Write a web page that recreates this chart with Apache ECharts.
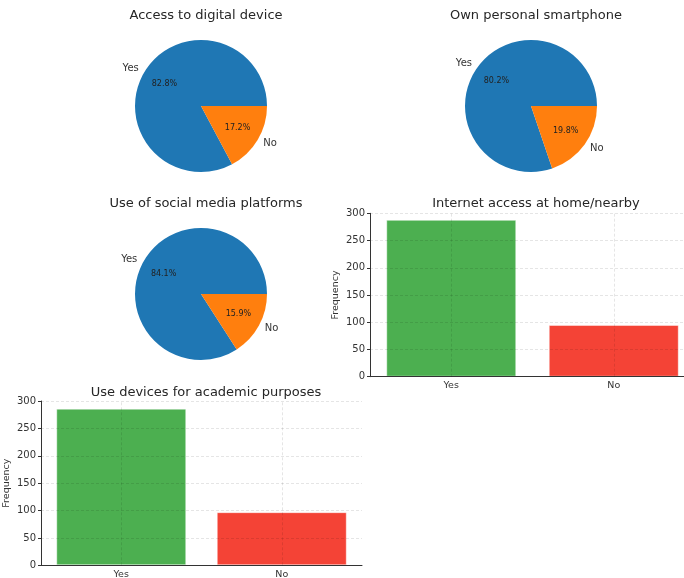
<!DOCTYPE html>
<html>
<head>
<meta charset="utf-8">
<script src="https://cdn.jsdelivr.net/npm/echarts@6/dist/echarts.min.js"></script>
<style>
	html, body { margin: 0; padding: 0; background: #fff; }
	#main { width: 684px; height: 578px; }
</style>
</head>
<body>
<div id="main"></div>
<script>
// 数据
var answers = ['Yes', 'No'];
var accessDevice = [82.8, 17.2];
var ownSmartphone = [80.2, 19.8];
var socialMedia = [84.1, 15.9];
var internetAccess = [288, 95];
var academicUse = [286, 97];
var freqTicks = [0, 50, 100, 150, 200, 250, 300];

var FONT = 'DejaVu Sans';
var pieColors = ['#1f77b4', '#ff7f0e'];
var barColors = ['#4caf50', '#f44336'];
var gridLine = 'rgba(0,0,0,0.13)';

// 饼图 - 名称 + 百分比两层
function pieSeries(center, r, values){
	return [{
		type: 'pie',
		center: center,
		radius: r,
		startAngle: 0,
		clockwise: false,
		avoidLabelOverlap: false,
		silent: true,
		label: {
			position: 'outside', formatter: '{b}',
			fontFamily: FONT, fontSize: 10, color: '#333',
			distanceToLabelLine: 0
		},
		labelLine: { show: false, length: r * 0.1, length2: 0 },
		data: answers.map(function(n, i){
			return { name: n, value: values[i], itemStyle: { color: pieColors[i] } };
		})
	}, {
		type: 'pie',
		center: center,
		radius: [r * 0.2, r],
		startAngle: 0,
		clockwise: false,
		silent: true,
		itemStyle: { color: 'transparent' },
		label: {
			position: 'inside',
			formatter: function(p){ return p.value.toFixed(1) + '%'; },
			fontFamily: FONT, fontSize: 8, color: '#222'
		},
		labelLine: { show: false },
		data: answers.map(function(n, i){ return { name: n, value: values[i] }; })
	}];
}

function barSeries(idx, values){
	return {
		type: 'bar',
		xAxisIndex: idx, yAxisIndex: idx,
		barWidth: 130,
		silent: true,
		data: values.map(function(v, i){
			return { value: v, itemStyle: { color: barColors[i], borderColor: 'rgba(255,255,255,0.45)', borderWidth: 1 } };
		}),
		markLine: {
			silent: true, symbol: ['none', 'none'], label: { show: false },
			lineStyle: { color: gridLine, type: [3, 2], width: 0.8 },
			data: answers.map(function(a){ return { xAxis: a }; })
		}
	};
}

function xAxisOf(idx){
	return {
		type: 'category', gridIndex: idx, data: answers, z: 3,
		axisLine: { lineStyle: { color: '#333', width: 1 } },
		axisTick: { alignWithLabel: true, length: 3, lineStyle: { color: '#333' } },
		axisLabel: { fontFamily: FONT, fontSize: 9.5, color: '#333', margin: 4 },
		splitLine: { show: false }
	};
}

function yAxisOf(idx){
	return {
		type: 'value', gridIndex: idx, z: 3,
		min: freqTicks[0], max: freqTicks[freqTicks.length - 1], interval: freqTicks[1] - freqTicks[0],
		name: 'Frequency', nameLocation: 'middle', nameGap: 29,
		nameTextStyle: { fontFamily: FONT, fontSize: 9.5, color: '#333' },
		axisLine: { show: true, lineStyle: { color: '#333', width: 1 } },
		axisTick: { show: true, length: 3, lineStyle: { color: '#333' } },
		axisLabel: { fontFamily: FONT, fontSize: 10, color: '#333', margin: 5 },
		splitLine: { show: true, lineStyle: { color: gridLine, type: [3, 2], width: 0.8 } }
	};
}

function titleOf(text, x, y){
	return {
		text: text, left: x, top: y, textAlign: 'center',
		textStyle: { fontFamily: FONT, fontSize: 13, fontWeight: 'normal', color: '#262626' }
	};
}

var chart = echarts.init(document.getElementById('main'));
chart.setOption({
	animation: false,
	backgroundColor: '#fff',
	title: [
		titleOf('Access to digital device', 201, 4),
		titleOf('Own personal smartphone', 531, 4),
		titleOf('Use of social media platforms', 201, 192),
		titleOf('Internet access at home/nearby', 531, 192),
		titleOf('Use devices for academic purposes', 201, 381)
	],
	grid: [
		{ left: 370, top: 213.3, width: 325, height: 163.4, outerBoundsMode: 'none', containLabel: false },
		{ left: 41, top: 401, width: 321, height: 164.3, outerBoundsMode: 'none', containLabel: false }
	],
	xAxis: [xAxisOf(0), xAxisOf(1)],
	yAxis: [yAxisOf(0), yAxisOf(1)],
	series: []
		.concat(pieSeries([201, 106], 66, accessDevice))
		.concat(pieSeries([531, 106], 66, ownSmartphone))
		.concat(pieSeries([201, 294], 66, socialMedia))
		.concat([barSeries(0, internetAccess), barSeries(1, academicUse)])
});
</script>
</body>
</html>
